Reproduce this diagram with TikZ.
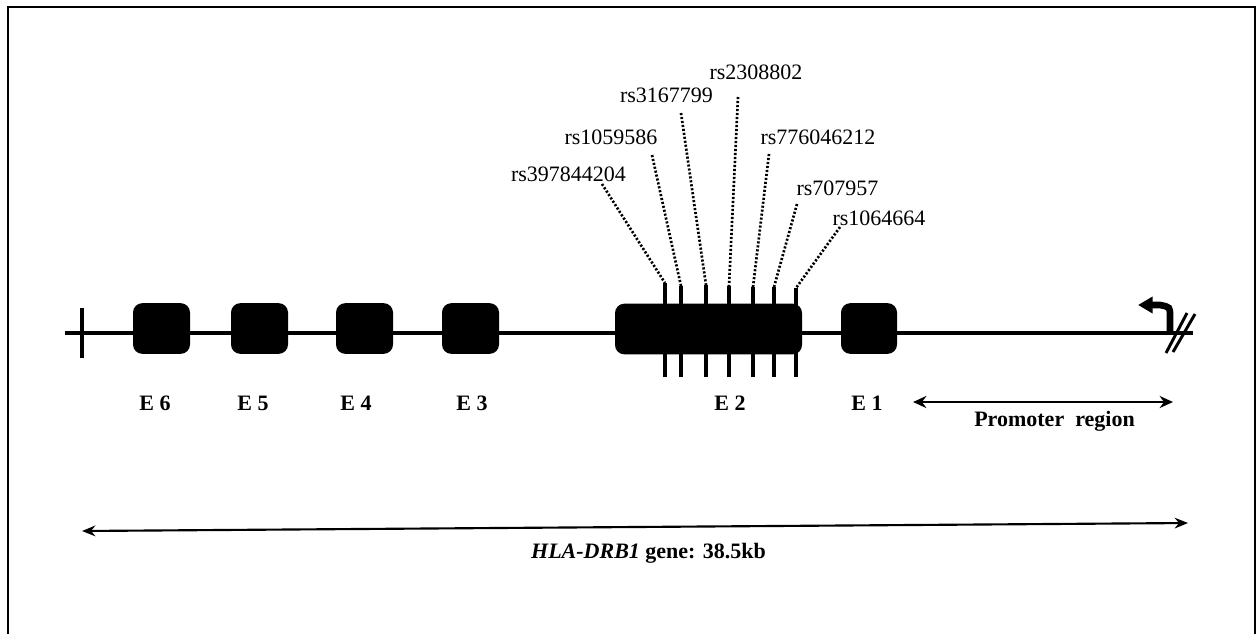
\documentclass[tikz,border=0pt]{standalone}
\usepackage{fontspec}
\setmainfont{Liberation Serif}
\usetikzlibrary{arrows.meta}
\begin{document}
\begin{tikzpicture}[x=0.75pt,y=-0.75pt,
  exon/.style={draw=none,fill=black,rounded corners=7pt,inner sep=0pt,minimum height=38pt},
  snp/.style={font=\fontsize{16.5}{18}\selectfont,inner sep=0pt},
  elab/.style={font=\fontsize{16.5}{18}\selectfont\bfseries,inner sep=0pt,anchor=base},
  dotline/.style={line width=2pt,dash pattern=on 1.6pt off 1.4pt},
  snptick/.style={line width=3pt},
  gene/.style={line width=3pt},
  span/.style={line width=2.2pt,{Stealth[length=10pt,width=9pt]}-{Stealth[length=10pt,width=9pt]}},
  frame/.style={line width=1.5pt},
]
\useasboundingbox (0,0) rectangle (1259,633);
% frame
\coordinate (fbl) at (8,634);
\coordinate (ftl) at (8,7);
\coordinate (ftr) at (1255,7);
\coordinate (fbr) at (1255,634);
\draw[frame] (fbl) -- (ftl) -- (ftr) -- (fbr);

% gene line
\coordinate (L) at (65,332.5);
\coordinate (R) at (1193,332.5);
\draw[gene] (L) -- (R);
\coordinate (lt1) at (82,308);
\coordinate (lt2) at (82,358);
\draw[gene] (lt1) -- (lt2);

% exons
\node[exon,minimum width=42.75pt] (e6) at (161.5,328.5) {};
\node[exon,minimum width=42.75pt] (e5) at (259.5,328.5) {};
\node[exon,minimum width=42.75pt] (e4) at (364.5,328.5) {};
\node[exon,minimum width=42.75pt] (e3) at (470.5,328.5) {};
\node[exon,minimum width=140.25pt] (e2) at (708.5,329) {};
\node[exon,minimum width=42pt] (e1) at (869,328.5) {};

% exon labels
\node[elab] (le6) at (155,410) {E 6};
\node[elab] (le5) at (253,410) {E 5};
\node[elab] (le4) at (356,410) {E 4};
\node[elab] (le3) at (472,410) {E 3};
\node[elab] (le2) at (730,410) {E 2};
\node[elab] (le1) at (867,410) {E 1};

% SNP ticks
\foreach \i/\x/\t in {1/665/283,2/681/286,3/706/285,4/729/286,5/753/287,6/774/287,7/796/288}{
  \coordinate (ta\i) at (\x,\t);
  \coordinate (tb\i) at (\x,377);
  \draw[snptick] (ta\i) -- (tb\i);
}

% SNP labels
\node[snp] (s1) at (568.5,174.5) {rs397844204};
\node[snp] (s2) at (611,137) {rs1059586};
\node[snp] (s3) at (666.5,95.5) {rs3167799};
\node[snp] (s4) at (756,72.5) {rs2308802};
\node[snp] (s5) at (818,137) {rs776046212};
\node[snp] (s6) at (837.5,188) {rs707957};
\node[snp] (s7) at (879,218.5) {rs1064664};

% dotted leaders
\coordinate (d1) at (602,184);
\coordinate (d2) at (652,155);
\coordinate (d3) at (681,113);
\coordinate (d4) at (738,97);
\coordinate (d5) at (769,154);
\coordinate (d6) at (797,204);
\coordinate (d7) at (840,227);
\foreach \i in {1,...,7}{
  \draw[dotline] (d\i) -- (ta\i);
}

% transcription start arrow
\coordinate (ts0) at (1170,331);
\coordinate (ts1) at (1170,316);
\coordinate (ts2) at (1160,305);
\coordinate (ts3) at (1138,305);
\draw[line width=5pt,-{Triangle[length=11pt,width=12pt]}] (ts0) -- (ts1) .. controls (1170,307) .. (ts2) -- (ts3);

% break slashes
\coordinate (sa1) at (1166,353);
\coordinate (sa2) at (1187,313);
\coordinate (sb1) at (1173,352);
\coordinate (sb2) at (1195,314);
\draw[line width=2.2pt] (sa1) -- (sa2);
\draw[line width=2.2pt] (sb1) -- (sb2);

% promoter region
\coordinate (p1) at (913,402);
\coordinate (p2) at (1173,402);
\draw[span] (p1) -- (p2);
\node[elab] (prom) at (1054.5,426) {Promoter\ \ region};

% gene length
\coordinate (g1) at (82,531);
\coordinate (g2) at (1188,523);
\draw[line width=1.6pt,{Stealth[length=10pt,width=8pt]}-{Stealth[length=10pt,width=8pt]}] (g1) -- (g2);
\node[elab,font=\fontsize{16.5}{18}\selectfont] (glab) at (648.5,558) {\textbf{\textit{HLA-DRB1}} \textbf{gene: 38.5kb}};
\end{tikzpicture}
\end{document}
